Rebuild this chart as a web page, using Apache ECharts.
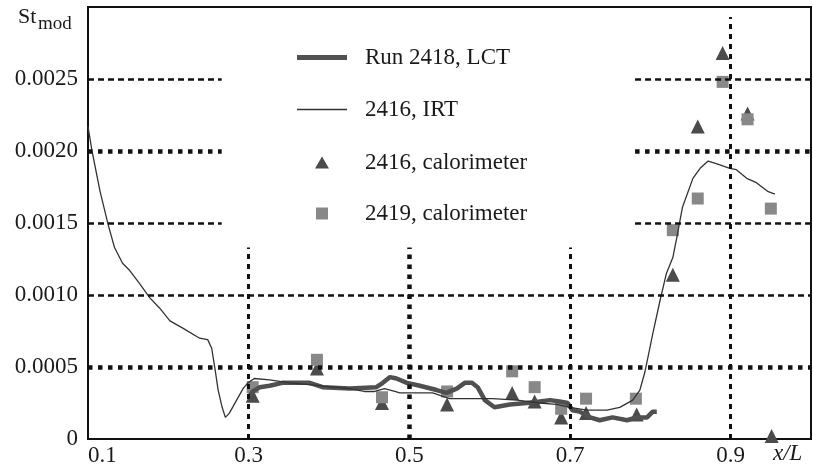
<!DOCTYPE html>
<html>
<head>
<meta charset="utf-8">
<script src="https://cdn.jsdelivr.net/npm/echarts@6/dist/echarts.min.js"></script>
<style>
  html, body { margin: 0; padding: 0; background: #fff; }
  #chart { width: 813px; height: 468px; }
</style>
</head>
<body>
<div id="chart"></div>
<script>
// 2416, IRT (thin line)
const irtX = [0.100, 0.105, 0.115, 0.125, 0.133, 0.143, 0.152, 0.164, 0.177, 0.189, 0.202, 0.218, 0.239, 0.249, 0.254, 0.258,
  0.262, 0.267, 0.271, 0.276, 0.285, 0.293, 0.299, 0.307, 0.326, 0.351, 0.388, 0.425, 0.444, 0.457, 0.469, 0.482,
  0.488, 0.529, 0.550, 0.571, 0.604, 0.634, 0.662, 0.683, 0.700, 0.721, 0.746, 0.762, 0.778, 0.787, 0.793, 0.799,
  0.803, 0.812, 0.820, 0.828, 0.833, 0.840, 0.853, 0.862, 0.872, 0.883, 0.899, 0.907, 0.920, 0.932, 0.946, 0.955];
const irtY = [0.00217, 0.00200, 0.00172, 0.00149, 0.00133, 0.00122, 0.00117, 0.00108, 0.00098, 0.00091, 0.00082, 0.00077, 0.00070, 0.00069, 0.00063, 0.00049,
  0.00034, 0.00022, 0.00015, 0.00018, 0.00027, 0.00035, 0.00039, 0.00042, 0.00041, 0.00039, 0.00037, 0.00035, 0.00033, 0.00033, 0.00035, 0.00033,
  0.00032, 0.00032, 0.00028, 0.00028, 0.00028, 0.00027, 0.00025, 0.00024, 0.00022, 0.00020, 0.00020, 0.00022, 0.00027, 0.00034, 0.00046, 0.00062,
  0.00073, 0.00096, 0.00115, 0.00126, 0.00140, 0.00161, 0.00181, 0.00188, 0.00193, 0.00191, 0.00188, 0.00187, 0.00181, 0.00178, 0.00172, 0.00170];

// Run 2418, LCT (thick line)
const lctX = [0.301, 0.305, 0.314, 0.326, 0.342, 0.363, 0.376, 0.392, 0.426, 0.459, 0.467, 0.476, 0.484, 0.497, 0.513, 0.534,
  0.546, 0.559, 0.569, 0.578, 0.585, 0.594, 0.606, 0.625, 0.646, 0.662, 0.675, 0.687, 0.697, 0.703, 0.712, 0.725,
  0.737, 0.753, 0.771, 0.783, 0.796, 0.803, 0.808];
const lctY = [0.00030, 0.00033, 0.00036, 0.00037, 0.00039, 0.00039, 0.00039, 0.00036, 0.00035, 0.00036, 0.00039, 0.00043, 0.00042, 0.00039, 0.00037, 0.00034,
  0.00032, 0.00035, 0.00039, 0.00039, 0.00036, 0.00027, 0.00022, 0.00024, 0.00025, 0.00026, 0.00027, 0.00026, 0.00025, 0.00020, 0.00019, 0.00015,
  0.00013, 0.00015, 0.00013, 0.00015, 0.00015, 0.00019, 0.00019];

// 2416, calorimeter (triangles)
const triX = [0.305, 0.385, 0.466, 0.547, 0.628, 0.656, 0.689, 0.720, 0.783, 0.828, 0.859, 0.890, 0.921, 0.951];
const triY = [0.00030, 0.00049, 0.00025, 0.00024, 0.00032, 0.00026, 0.00015, 0.00018, 0.00017, 0.00114, 0.00217, 0.00268, 0.00226, 0.00002];

// 2419, calorimeter (squares)
const sqX = [0.305, 0.385, 0.466, 0.547, 0.628, 0.656, 0.689, 0.720, 0.782, 0.828, 0.859, 0.890, 0.921, 0.950];
const sqY = [0.00036, 0.00055, 0.00029, 0.00033, 0.00047, 0.00036, 0.00021, 0.00028, 0.00028, 0.00145, 0.00167, 0.00248, 0.00222, 0.00160];

const names = ['Run 2418, LCT', '2416, IRT', '2416, calorimeter', '2419, calorimeter'];

const pairs = (xs, ys) => xs.map((x, i) => [x, ys[i]]);
const seg = (a, b) => [{coord: a}, {coord: b}];

const FONT = '"Liberation Serif", "DejaVu Serif", serif';
const INK = '#1a1a1a';

// dotted grid pieces, drawn only where the original has them
const dashedLines = [
  seg([0.1, 0.0025], [0.2664, 0.0025]), seg([0.781, 0.0025], [1.0, 0.0025]),
  seg([0.1, 0.0015], [0.2664, 0.0015]), seg([0.781, 0.0015], [1.0, 0.0015]),
  seg([0.1, 0.0010], [1.0, 0.0010])
];
const dashedVertical = [
  seg([0.3, 0], [0.3, 0.00133]), seg([0.7, 0], [0.7, 0.00133]), seg([0.9, 0], [0.9, 0.00293])
];
const heavyLines = [
  seg([0.1, 0.0020], [0.2664, 0.0020]), seg([0.781, 0.0020], [1.0, 0.0020]),
  seg([0.1, 0.0005], [1.0, 0.0005]),
  seg([0.5, 0], [0.5, 0.00133])
];

function gridSeries(data, width, dash) {
  return {
    type: 'line', data: [], silent: true,
    markLine: {
      silent: true, symbol: ['none', 'none'], label: {show: false},
      lineStyle: {color: '#111', width: width, type: dash, opacity: 1},
      emphasis: {disabled: true},
      data: data
    }
  };
}

// one legend per row so each icon gets its own size; text always starts at x=365
function legendRow(name, icon, left, top, w, h) {
  return {
    data: [{name: name, icon: icon}], left: left, top: top, orient: 'vertical', padding: 0,
    itemWidth: w, itemHeight: h, selectedMode: false,
    textStyle: {fontFamily: FONT, fontSize: 23, color: INK, padding: [0, 0, 0, 365 - (left + w + 5)]}
  };
}

const chart = echarts.init(document.getElementById('chart'));

const option = {
  animation: false,
  backgroundColor: '#fff',
  grid: {left: 88, top: 7, width: 723, height: 432, show: true, borderColor: '#111', borderWidth: 2, containLabel: false},
  legend: [
    legendRow(names[0], 'rect', 297, 46, 50, 5),
    legendRow(names[1], 'rect', 297, 98, 50, 1.5),
    legendRow(names[2], 'triangle', 315, 151, 14, 12),
    legendRow(names[3], 'rect', 316, 202, 12, 12)
  ],
  xAxis: {
    type: 'value', min: 0.1, max: 1.0, interval: 0.2,
    axisLine: {show: true, lineStyle: {color: '#111', width: 2}},
    axisTick: {show: false},
    splitLine: {show: false},
    axisLabel: {
      fontFamily: FONT, fontSize: 23, color: INK, margin: 5,
      showMaxLabel: false, alignMinLabel: 'left',
      formatter: v => v.toFixed(1)
    }
  },
  yAxis: {
    type: 'value', min: 0, max: 0.003, interval: 0.0005,
    axisLine: {show: true, lineStyle: {color: '#111', width: 2}},
    axisTick: {show: false},
    splitLine: {show: false},
    axisLabel: {
      fontFamily: FONT, fontSize: 23, color: INK, margin: 10,
      showMaxLabel: false,
      formatter: v => v === 0 ? '0' : v.toFixed(4)
    }
  },
  graphic: [
    {type: 'text', left: 18, top: 6, style: {text: 'St', font: '22px ' + FONT, fill: INK}},
    {type: 'text', left: 38, top: 15, style: {text: 'mod', font: '19px ' + FONT, fill: INK}},
    {type: 'text', left: 773, top: 442, style: {text: 'x/L', font: 'italic 23px ' + FONT, fill: INK}}
  ],
  series: [
    gridSeries(dashedLines, 2.5, [6, 4]),
    gridSeries(dashedVertical, 3, [5, 5]),
    gridSeries(heavyLines, 4.5, [4.5, 5.5]),
    {
      name: names[0], type: 'line', data: pairs(lctX, lctY),
      symbol: 'none', smooth: false,
      lineStyle: {color: '#505050', width: 4.5},
      itemStyle: {color: '#505050'}
    },
    {
      name: names[1], type: 'line', data: pairs(irtX, irtY),
      symbol: 'none', smooth: false,
      lineStyle: {color: '#333', width: 1.3},
      itemStyle: {color: '#333'}
    },
    {
      name: names[2], type: 'scatter', data: pairs(triX, triY),
      symbol: 'triangle', symbolSize: 14,
      itemStyle: {color: '#4b4b4b', opacity: 1}
    },
    {
      name: names[3], type: 'scatter', data: pairs(sqX, sqY),
      symbol: 'rect', symbolSize: 12,
      itemStyle: {color: '#888', opacity: 1}
    }
  ]
};

chart.setOption(option);
</script>
</body>
</html>
